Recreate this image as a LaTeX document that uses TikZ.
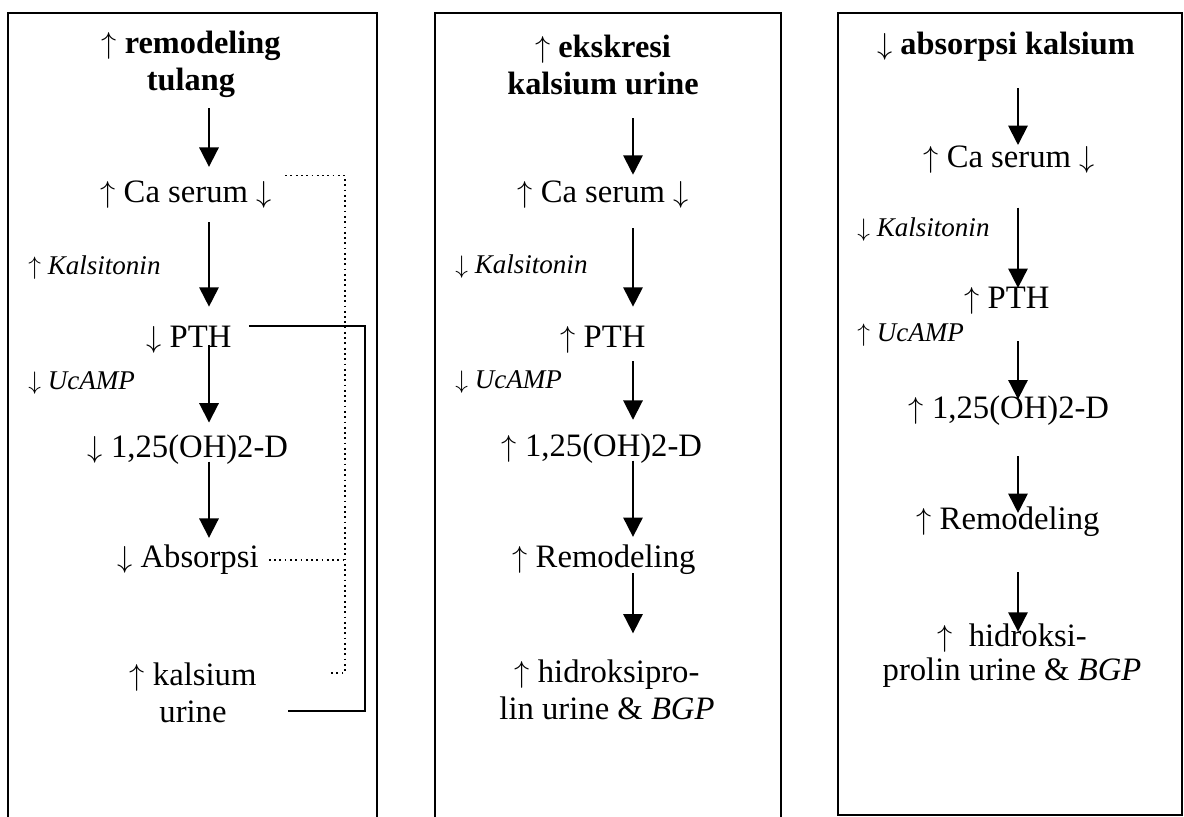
\documentclass[tikz,border=0pt]{standalone}
\usepackage{fontspec}
\setmainfont{Liberation Serif}
\usetikzlibrary{arrows.meta}

\begin{document}
\begin{tikzpicture}[x=0.02cm, y=-0.02cm,
        txt/.style={font=\fontsize{18.6}{21}\selectfont, align=center, inner sep=0pt},
        head/.style={txt, font=\fontsize{18.4}{21}\selectfont\bfseries},
        side/.style={font=\fontsize{15.4}{18}\selectfont, anchor=west, inner sep=0pt},
        flow/.style={line width=1.1pt, -{Triangle[width=11pt,length=11pt]}},
        fbdot/.style={line width=1pt, dotted},
        fbline/.style={line width=0.9pt},
        panel/.style={line width=1pt}]
        \useasboundingbox (0,0) rectangle (1184,817);
        \draw[panel] (8,817) |- (377,13) -- (377,817);
        \draw[panel] (435,817) |- (781,13) -- (781,817);
        \draw[panel] (838,13) rectangle (1182,815);
        \coordinate (AX1) at (209,0);
        \coordinate (AX2) at (633,0);
        \coordinate (AX3) at (1018,0);
        % remodeling tulang
        \node[head] (T1) at (191,64) {
            $\uparrow$ remodeling\\tulang
        };
        \node[txt] (CA1) at (190,195) {
            $\uparrow$ Ca serum $\downarrow$
        };
        \node[side] (KAL1) at (28,268) {
            $\uparrow$ \textit{Kalsitonin}
        };
        \node[txt] (PTH1) at (193,340) {
            $\downarrow$ PTH
        };
        \node[side] (UC1) at (28,383) {
            $\downarrow$ \textit{UcAMP}
        };
        \node[txt] (D1) at (192,450) {
            $\downarrow$ 1,25(OH)2-D
        };
        \node[txt] (ABS1) at (192,560) {
            $\downarrow$ Absorpsi
        };
        \node[txt] (KUR1) at (193,693) {
            $\uparrow$ kalsium\\urine
        };
        % ekskresi kalsium urine
        \node[head] (T2) at (603,65) {
            $\uparrow$ ekskresi\\kalsium urine
        };
        \node[txt] (CA2) at (607,195) {
            $\uparrow$ Ca serum $\downarrow$
        };
        \node[side] (KAL2) at (455,267) {
            $\downarrow$ \textit{Kalsitonin}
        };
        \node[txt] (PTH2) at (607,340) {
            $\uparrow$ PTH
        };
        \node[side] (UC2) at (455,382) {
            $\downarrow$ \textit{UcAMP}
        };
        \node[txt] (D2) at (606,449) {
            $\uparrow$ 1,25(OH)2-D
        };
        \node[txt] (REM2) at (608,560) {
            $\uparrow$ Remodeling
        };
        \node[txt] (HID2) at (607,690) {
            $\uparrow$ hidroksipro-\\lin urine \& \textit{BGP}
        };
        % absorpsi kalsium
        \node[head] (T3) at (1010,47) {
            $\downarrow$ absorpsi kalsium
        };
        \node[txt] (CA3) at (1013,160) {
            $\uparrow$ Ca serum $\downarrow$
        };
        \node[side] (KAL3) at (857,230) {
            $\downarrow$ \textit{Kalsitonin}
        };
        \node[txt] (PTH3) at (1011,301) {
            $\uparrow$ PTH
        };
        \node[side] (UC3) at (857,335) {
            $\uparrow$ \textit{UcAMP}
        };
        \node[txt] (D3) at (1013,411) {
            $\uparrow$ 1,25(OH)2-D
        };
        \node[txt] (REM3) at (1012,522) {
            $\uparrow$ Remodeling
        };
        \node[txt, font=\fontsize{18.6}{19.5}\selectfont] (HID3) at (1012,656) {
            $\uparrow$\ \ hidroksi-\\prolin urine \& \textit{BGP}
        };
        \draw[flow, shorten <=6pt, shorten >=8pt] (T1.south -| AX1) -- (CA1.north -| AX1);
        \draw[flow, shorten <=7.5pt, shorten >=11pt] (CA1.south -| AX1) -- (PTH1.north -| AX1);
        \draw[flow, shorten <=-5pt, shorten >=7pt] (PTH1.south -| AX1) -- (D1.north -| AX1);
        \draw[flow, shorten <=-2pt, shorten >=4pt] (D1.south -| AX1) -- (ABS1.north -| AX1);
        \draw[flow, shorten <=13pt, shorten >=3.5pt] (T2.south -| AX2) -- (CA2.north -| AX2);
        \draw[flow, shorten <=11pt, shorten >=11pt] (CA2.south -| AX2) -- (PTH2.north -| AX2);
        \draw[flow, shorten <=4pt, shorten >=8pt] (PTH2.south -| AX2) -- (D2.north -| AX2);
        \draw[flow, shorten <=-2pt, shorten >=4.5pt] (D2.south -| AX2) -- (REM2.north -| AX2);
        \draw[flow, shorten <=-1pt, shorten >=15pt] (REM2.south -| AX2) -- (HID2.north -| AX2);
        \draw[flow, shorten <=15pt, shorten >=0.5pt] (T3.south -| AX3) -- (CA3.north -| AX3);
        \draw[flow, shorten <=19pt, shorten >=-0.5pt] (CA3.south -| AX3) -- (PTH3.north -| AX3);
        \draw[flow, shorten <=15pt, shorten >=-2pt] (PTH3.south -| AX3) -- (D3.north -| AX3);
        \draw[flow, shorten <=17pt, shorten >=-3.5pt] (D3.south -| AX3) -- (REM3.north -| AX3);
        \draw[flow, shorten <=20pt, shorten >=-4.5pt] (REM3.south -| AX3) -- (HID3.north -| AX3);
        % feedback lines
        \coordinate (DOTBUS) at (345,0);
        \coordinate (LINEBUS) at (365,0);
        \coordinate (DOTEND) at (328,673);
        \coordinate (LINEEND) at (288,711);
        \draw[fbdot] ([xshift=3pt,yshift=3pt]CA1.north east) -- ([yshift=3pt]CA1.north east -| DOTBUS) -- (DOTBUS |- DOTEND) -- (DOTEND);
        \draw[fbdot] ([xshift=1pt]ABS1.east) -- (ABS1.east -| DOTBUS);
        \draw[fbline] ([xshift=5pt]PTH1.north east) -- (PTH1.north east -| LINEBUS) -- (LINEBUS |- LINEEND) -- (LINEEND);
\end{tikzpicture}
\end{document}
